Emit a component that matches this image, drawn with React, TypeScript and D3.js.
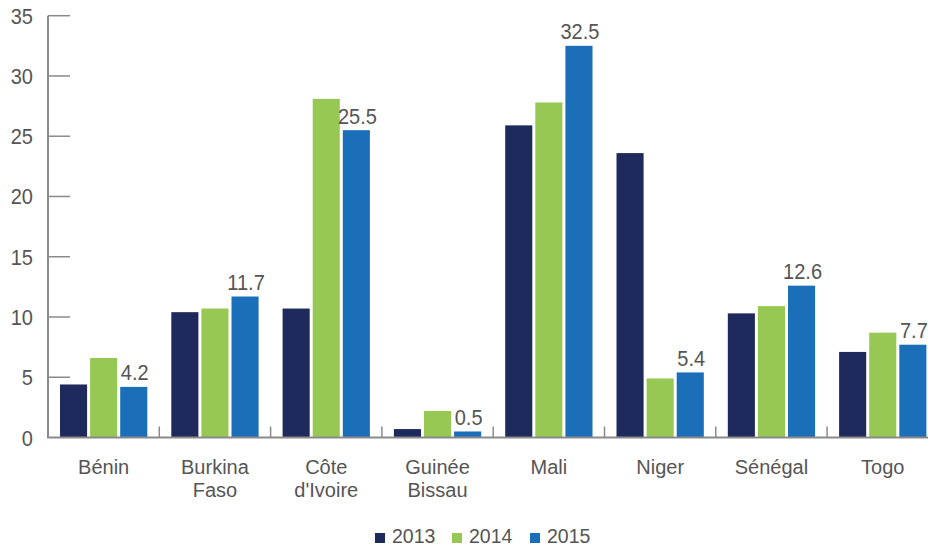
import React from "react";
import * as d3 from "d3";

const categories = ["Bénin", "Burkina Faso", "Côte d'Ivoire", "Guinée Bissau", "Mali", "Niger", "Sénégal", "Togo"];
const categoryLines = [["Bénin"], ["Burkina", "Faso"], ["Côte", "d'Ivoire"], ["Guinée", "Bissau"], ["Mali"], ["Niger"], ["Sénégal"], ["Togo"]];
const seriesNames = ["2013", "2014", "2015"];
const values2013 = [4.4, 10.4, 10.7, 0.7, 25.9, 23.6, 10.3, 7.1];
const values2014 = [6.6, 10.7, 28.1, 2.2, 27.8, 4.9, 10.9, 8.7];
const values2015 = [4.2, 11.7, 25.5, 0.5, 32.5, 5.4, 12.6, 7.7];
const yTicks = [0, 5, 10, 15, 20, 25, 30, 35];
const colors = ["#1f2a5c", "#96c853", "#1a6fb8"];

function Num({ x, y, anchor, size, sy, fill, children }: any) {
  return (
    <text
      transform={`translate(${x},${y}) scale(1,${sy})`}
      textAnchor={anchor}
      fontSize={size}
      fill={fill}
    >
      {children}
    </text>
  );
}

export default function App() {
  const W = 928, H = 547;
  const left = 48, right = 938.4, top = 15.7, bottom = 437.5;
  const font = "'Liberation Sans', Arial, sans-serif";
  const textColor = "#555555";
  const axisColor = "#8a8a8a";
  const series = [values2013, values2014, values2015];

  const x0 = d3.scaleBand<string>().domain(categories).range([left, right]).paddingInner(0).paddingOuter(0);
  const x1 = d3.scaleBand<string>().domain(seriesNames).range([12, x0.bandwidth() - 12]).paddingInner(0.1).paddingOuter(0);
  const y = d3.scaleLinear().domain([0, 35]).range([bottom, top]);

  return (
    <svg width={W} height={H} style={{ display: "block", position: "absolute", left: 0, top: 0 }} fontFamily={font}>
      <rect width={W} height={H} fill="#ffffff" />
      {categories.map((c, i) => (
        <g key={c}>
          {series.map((vals, s) => {
            const bx = (x0(c) as number) + (x1(seriesNames[s]) as number);
            return (
              <rect key={s} x={bx} y={y(vals[i])} width={x1.bandwidth()} height={bottom - y(vals[i])} fill={colors[s]} />
            );
          })}
          <Num
            x={(x0(c) as number) + (x1("2015") as number) + x1.bandwidth() / 2 + 1}
            y={y(values2015[i]) - 6.5}
            anchor="middle"
            size={20}
            sy={1.13}
            fill={textColor}
          >
            {values2015[i].toFixed(1)}
          </Num>
          {categoryLines[i].map((ln, k) => (
            <text key={k} x={(x0(c) as number) + x0.bandwidth() / 2} y={474 + k * 22.5} textAnchor="middle" fontSize={20} fill={textColor}>
              {ln}
            </text>
          ))}
        </g>
      ))}
      {/* axes */}
      <line x1={left} x2={left} y1={top} y2={bottom} stroke={axisColor} strokeWidth={2} />
      <line x1={left - 1} x2={W} y1={bottom} y2={bottom} stroke={axisColor} strokeWidth={2} />
      {yTicks.map((t) => (
        <g key={t}>
          {t > 0 && <line x1={left} x2={70} y1={y(t)} y2={y(t)} stroke={axisColor} strokeWidth={1.5} />}
          <Num x={33} y={y(t) + 8} anchor="end" size={20} sy={1.1} fill={textColor}>
            {t}
          </Num>
        </g>
      ))}
      {categories.slice(1).map((c) => (
        <line key={c} x1={x0(c) as number} x2={x0(c) as number} y1={bottom} y2={bottom - 11} stroke={axisColor} strokeWidth={1.5} />
      ))}
      {/* legend */}
      {seriesNames.map((s, i) => {
        const lx = [375, 452, 530][i];
        return (
          <g key={s}>
            <rect x={lx} y={533} width={10} height={10} fill={colors[i]} />
            <text x={lx + 17} y={543} fontSize={19.5} fill={textColor}>
              {s}
            </text>
          </g>
        );
      })}
    </svg>
  );
}
